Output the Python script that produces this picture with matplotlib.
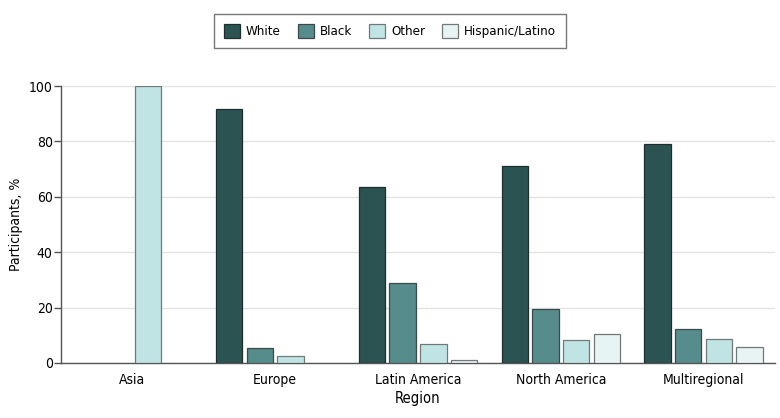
import numpy as np
import matplotlib.pyplot as plt

plt.rcParams['font.family'] = ['DejaVu Sans']
plt.rcParams['font.stretch'] = 'condensed'

regions = ['Asia', 'Europe', 'Latin America', 'North America', 'Multiregional']
groups = ['White', 'Black', 'Other', 'Hispanic/Latino']
white = [0, 91.6, 63.4, 71.2, 79.1]
black = [0, 5.5, 28.8, 19.6, 12.2]
other = [100, 2.4, 7.0, 8.4, 8.6]
hispanic = [0, 0, 1.0, 10.4, 5.7]
colors = ['#2a5352', '#568c8b', '#c0e4e4', '#e8f3f4']
edges = ['#1e2e2e', '#3a4a4a', '#707878', '#707878']

fig = plt.figure(figsize=(7.8, 4.18), dpi=100)
ax = fig.add_axes([61/780, 1 - 363/418, 714/780, 277/418])

x = np.arange(len(regions))
step = 0.215
for i, (vals, name) in enumerate(zip([white, black, other, hispanic], groups)):
    v = np.array(vals, dtype=float)
    h = np.where(v > 0, v, np.nan)
    ax.bar(x + (i - 1.5) * step, h, width=0.185, color=colors[i],
           edgecolor=edges[i], linewidth=0.9, label=name, zorder=3)

ax.set_xlim(-0.5, 4.5)
ax.set_ylim(0, 100)
ax.set_yticks(range(0, 101, 20))
ax.set_xticks(x)
ax.set_xticklabels(regions, fontsize=10)
ax.tick_params(axis='x', length=0, pad=7)
ax.tick_params(axis='y', labelsize=10, length=5, color='#555555', width=1, pad=1)
ax.yaxis.grid(True, color='#e2e2e2', linewidth=1, zorder=0)
for s in ['top', 'right']:
    ax.spines[s].set_visible(False)
for s in ['left', 'bottom']:
    ax.spines[s].set_color('#555555')
    ax.spines[s].set_linewidth(1)
ax.set_ylabel('Participants, %', fontsize=10, labelpad=4)
ax.set_xlabel('Region', fontsize=10.5, labelpad=3)

leg = fig.legend(loc='center', bbox_to_anchor=(390/780, 1 - 31/418), ncol=4,
                 fontsize=9.5, frameon=True, fancybox=False, edgecolor='#555555',
                 handlelength=1.2, handleheight=1.3, columnspacing=1.3,
                 handletextpad=0.45, borderpad=0.75)
leg.get_frame().set_linewidth(1)

fig.savefig('out.png', dpi=100)
